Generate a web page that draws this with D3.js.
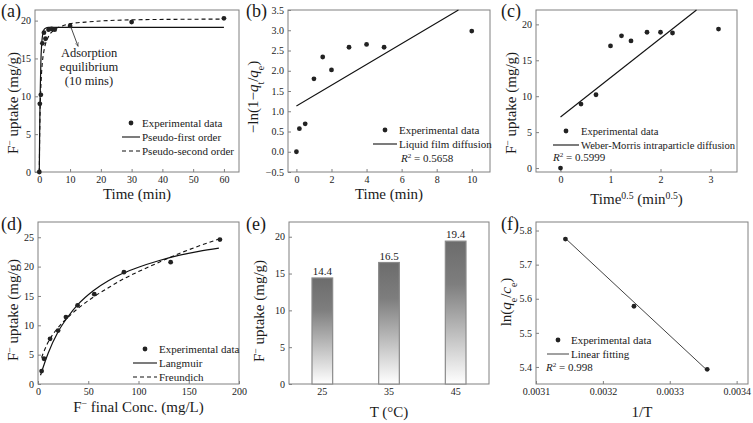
<!DOCTYPE html>
<html>
<head>
<meta charset="utf-8">
<script src="https://cdn.jsdelivr.net/npm/d3@7"></script>
<style>
  body { margin: 0; background: #fff; }
  svg text { font-family: "Liberation Serif", "Times New Roman", serif; fill: #1a1a1a; }
</style>
</head>
<body>
<svg id="chart" width="753" height="423"></svg>
<script>
// (a) kinetics
const timeA = [0, 0.17, 0.5, 1, 1.5, 2, 3, 4, 5, 10, 30, 60];
const uptakeA = [0, 9.0, 10.2, 17.0, 18.4, 17.6, 18.8, 18.9, 18.8, 19.3, 19.8, 20.3];
const pfoTime = [0, 0.1, 0.25, 0.5, 0.75, 1, 1.5, 2, 3, 60];
const pfoFit = [0, 4.7, 9.6, 14.4, 16.8, 17.9, 18.8, 19.0, 19.1, 19.1];
const psoTime = [0, 0.1, 0.25, 0.5, 0.75, 1, 1.5, 2, 3, 5, 7.5, 10, 15, 20, 30, 45, 60];
const psoFit = [0, 4.0, 7.8, 11.2, 13.2, 14.5, 16.0, 16.9, 17.9, 18.8, 19.3, 19.6, 19.8, 19.95, 20.1, 20.17, 20.2];

// (b) liquid film diffusion
const timeB = [0, 0.17, 0.5, 1, 1.5, 2, 3, 4, 5, 10];
const lnB = [0, 0.57, 0.69, 1.80, 2.34, 2.02, 2.58, 2.65, 2.58, 2.98];
const fitBx = [0, 9.24];
const fitBy = [1.13, 3.5];

// (c) Weber-Morris
const sqrtTimeC = [0, 0.41, 0.71, 1, 1.22, 1.41, 1.73, 2, 2.24, 3.16];
const uptakeC = [0, 8.9, 10.2, 17.0, 18.4, 17.7, 18.9, 18.9, 18.8, 19.35];
const fitCx = [0, 2.72];
const fitCy = [7.1, 22.0];

// (d) isotherms
const concD = [3.6, 6, 12, 20, 27.8, 39.4, 56, 85.5, 132, 181];
const uptakeD = [2.2, 4.3, 7.7, 9.1, 11.4, 13.4, 15.3, 19.05, 20.75, 24.6];
const langConc = [2.5, 10, 20, 30, 40, 55, 70, 85, 100, 120, 140, 160, 180];
const langFit = [1.5, 5.2, 8.9, 11.5, 13.6, 15.9, 17.6, 18.9, 19.9, 21.0, 21.9, 22.6, 23.15];
const freuConc = [3.5, 10, 20, 30, 40, 55, 70, 85, 100, 120, 140, 160, 180];
const freuFit = [4.5, 7.1, 9.6, 11.4, 12.9, 14.8, 16.4, 17.9, 19.15, 20.7, 22.2, 23.5, 24.7];

// (e) temperature
const tempsE = ["25", "35", "45"];
const uptakeE = [14.4, 16.5, 19.4];

// (f) thermodynamics
const invTF = [0.003144, 0.0032465, 0.003356];
const lnKF = [5.775, 5.578, 5.393];
const fitFx = [0.003144, 0.003356];
const fitFy = [5.777, 5.39];

const svg = d3.select("#chart");
const defs = svg.append("defs");
const FRAME = "#808080";

// text with rich runs: [text, {i: italic, s: 'sub'|'super'}]
function rich(sel, runs) {
  runs.forEach(r => {
    const t = sel.append("tspan").text(r[0]);
    const o = r[1] || {};
    if (o.i) t.style("font-style", "italic");
    if (o.s) t.attr("baseline-shift", o.s).style("font-size", "0.65em");
  });
  return sel;
}

function styleAxis(sel) {
  sel.select(".domain").remove();
  sel.selectAll(".tick line").attr("stroke", FRAME);
  sel.selectAll(".tick text").style("font-size", "10px")
    .style("font-family", '"Liberation Serif", "Times New Roman", serif').attr("fill", "#1a1a1a");
}

function panel(o) {
  const x = d3.scaleLinear().domain(o.xd).range([o.l, o.r]);
  const y = d3.scaleLinear().domain(o.yd).range([o.b, o.t]);
  const g = svg.append("g");

  g.append("rect")
    .attr("x", o.l).attr("y", o.t)
    .attr("width", o.r - o.l).attr("height", o.b - o.t)
    .attr("fill", "none").attr("stroke", FRAME).attr("stroke-width", 1);

  if (o.xt) {
    g.append("g")
      .attr("transform", "translate(0," + o.b + ")")
      .call(d3.axisBottom(x).tickValues(o.xt).tickSize(-3).tickPadding(4).tickFormat(o.xf || (d => d)))
      .call(styleAxis);
  }
  g.append("g")
    .attr("transform", "translate(" + o.l + ",0)")
    .call(d3.axisLeft(y).tickValues(o.yt).tickSize(-3).tickPadding(4).tickFormat(o.yf || (d => d)))
    .call(styleAxis);

  // panel label
  g.append("text").attr("x", o.lx).attr("y", o.ly)
    .style("font-size", "18px").text(o.label);

  // x title
  rich(g.append("text")
    .attr("x", (o.l + o.r) / 2).attr("y", o.xty)
    .attr("text-anchor", "middle").style("font-size", "15px"), o.xtitle);

  // y title
  rich(g.append("text")
    .attr("transform", "translate(" + o.ytx + "," + o.ytc + ") rotate(-90)")
    .attr("text-anchor", "middle").style("font-size", "15px"), o.ytitle);

  return { g, x, y };
}

function dots(p, xs, ys) {
  p.g.selectAll(null).data(xs).enter().append("circle")
    .attr("cx", d => p.x(d))
    .attr("cy", (d, i) => p.y(ys[i]))
    .attr("r", 2.4)
    .attr("fill", "#222");
}

function curve(p, xs, ys, dash, w) {
  const line = d3.line().x(d => p.x(d[0])).y(d => p.y(d[1])).curve(d3.curveMonotoneX);
  p.g.append("path")
    .datum(xs.map((d, i) => [d, ys[i]]))
    .attr("d", line)
    .attr("fill", "none").attr("stroke", "#111")
    .attr("stroke-width", w || 1.1)
    .attr("stroke-dasharray", dash || null);
}

function legend(g, x, y, items, fs) {
  items.forEach((it, i) => {
    const cy = y + i * 14;
    if (it.type === "dot") {
      g.append("circle").attr("cx", x + it.w / 2).attr("cy", cy).attr("r", 2.4).attr("fill", "#222");
    } else {
      g.append("line").attr("x1", x).attr("x2", x + it.w).attr("y1", cy).attr("y2", cy)
        .attr("stroke", "#111").attr("stroke-width", it.sw || 1.1)
        .attr("stroke-dasharray", it.type === "dash" ? "4,3" : null);
    }
    rich(g.append("text")
      .attr("x", x + it.w + 2)
      .attr("y", cy + 4).style("font-size", (fs || 11) + "px"), it.label);
  });
}

const Fm = [["F"], ["\u2212", { s: "super" }]];

// ---- (a)
const pa = panel({
  l: 35, r: 239, t: 10, b: 172, xd: [-1.4, 64.9], yd: [0, 21.4],
  xt: [0, 10, 20, 30, 40, 50, 60], yt: [0, 5, 10, 15, 20],
  label: "(a)", lx: 1, ly: 17,
  xtitle: [["Time (min)"]], xty: 199,
  ytitle: Fm.concat([[" uptake (mg/g)"]]), ytx: 18, ytc: 103
});
curve(pa, pfoTime, pfoFit, null, 1.2);
curve(pa, psoTime, psoFit, "4,3", 1.1);
dots(pa, timeA, uptakeA);
defs.append("marker")
  .attr("id", "arr").attr("viewBox", "0 0 10 10").attr("refX", 9).attr("refY", 5)
  .attr("markerWidth", 5).attr("markerHeight", 5).attr("orient", "auto")
  .append("path").attr("d", "M0,1 L9,5 L0,9").attr("fill", "none").attr("stroke", "#333");
pa.g.append("line")
  .attr("x1", pa.x(10.3)).attr("y1", pa.y(19.1))
  .attr("x2", pa.x(12.6)).attr("y2", pa.y(16.6))
  .attr("stroke", "#333").attr("stroke-width", 0.9).attr("marker-end", "url(#arr)");
["Adsorption", "equilibrium", "(10 mins)"].forEach((s, i) => {
  pa.g.append("text").attr("x", 89).attr("y", 57 + i * 14)
    .attr("text-anchor", "middle").style("font-size", "12.5px").text(s);
});
legend(pa.g, 122, 123, [
  { type: "dot", w: 18, label: [["Experimental data"]] },
  { type: "line", w: 18, label: [["Pseudo-first order"]] },
  { type: "dash", w: 18, label: [["Pseudo-second order"]] }
]);

// ---- (b)
const pb = panel({
  l: 288, r: 490, t: 10, b: 172, xd: [-0.48, 11.04], yd: [-0.5, 3.5],
  xt: [0, 2, 4, 6, 8, 10], yt: [-0.5, 0, 0.5, 1, 1.5, 2, 2.5, 3, 3.5],
  yf: d => d3.format(".1f")(d).replace("-", "\u2212"),
  label: "(b)", lx: 246, ly: 17,
  xtitle: [["Time (min)"]], xty: 199,
  ytitle: [["\u2212ln(1\u2212"], ["q", { i: 1 }], ["t", { s: "sub" }], ["/"], ["q", { i: 1 }], ["e", { s: "sub" }], [")"]],
  ytx: 258, ytc: 97
});
curve(pb, fitBx, fitBy, null, 1.1);
dots(pb, timeB, lnB);
legend(pb.g, 373, 130, [
  { type: "dot", w: 24, label: [["Experimental data"]] },
  { type: "line", w: 24, label: [["Liquid film diffusion"]] }
]);
rich(pb.g.append("text").attr("x", 401).attr("y", 162).style("font-size", "11px"),
  [["R", { i: 1 }], ["2", { s: "super" }], [" = 0.5658"]]);

// ---- (c)
const pc = panel({
  l: 536, r: 737, t: 10, b: 172, xd: [-0.49, 3.53], yd: [-0.55, 22],
  xt: [0, 1, 2, 3], yt: [0, 5, 10, 15, 20],
  label: "(c)", lx: 501, ly: 17,
  xtitle: [["Time"], ["0.5", { s: "super" }], [" (min"], ["0.5", { s: "super" }], [")"]], xty: 204,
  ytitle: Fm.concat([[" uptake (mg/g)"]]), ytx: 516, ytc: 103
});
curve(pc, fitCx, fitCy, null, 1.1);
dots(pc, sqrtTimeC, uptakeC);
legend(pc.g, 553, 131, [
  { type: "dot", w: 26, label: [["Experimental data"]] },
  { type: "line", w: 26, label: [["Weber-Morris intraparticle diffusion"]] }
], 10.6);
rich(pc.g.append("text").attr("x", 553).attr("y", 161).style("font-size", "11px"),
  [["R", { i: 1 }], ["2", { s: "super" }], [" = 0.5999"]]);

// ---- (d)
const pd = panel({
  l: 38, r: 239, t: 222, b: 384, xd: [0, 200], yd: [0, 27.6],
  xt: [0, 50, 100, 150, 200], yt: [0, 5, 10, 15, 20, 25],
  label: "(d)", lx: 1, ly: 230,
  xtitle: Fm.concat([[" final Conc. (mg/L)"]]), xty: 412,
  ytitle: Fm.concat([[" uptake (mg/g)"]]), ytx: 18, ytc: 310
});
curve(pd, langConc, langFit, null, 1.2);
curve(pd, freuConc, freuFit, "4,3", 1.1);
dots(pd, concD, uptakeD);
legend(pd.g, 133, 349, [
  { type: "dot", w: 24, label: [["Experimental data"]] },
  { type: "line", w: 24, label: [["Langmuir"]] },
  { type: "dash", w: 24, label: [["Freundich"]] }
]);

// ---- (e)
const pe = panel({
  l: 289, r: 489, t: 222, b: 384, xd: [0, 1], yd: [0, 22],
  xt: null, yt: [0, 5, 10, 15, 20],
  label: "(e)", lx: 246, ly: 230,
  xtitle: [["T (\u00b0C)"]], xty: 417,
  ytitle: Fm.concat([[" uptake (mg/g)"]]), ytx: 264, ytc: 311
});
const band = d3.scaleBand().domain(tempsE).range([289, 489]).padding(0);
pe.g.append("g")
  .attr("transform", "translate(0,384)")
  .call(d3.axisBottom(band).tickSize(-3).tickPadding(4))
  .call(styleAxis);
const grad = defs.append("linearGradient")
  .attr("id", "barGrad").attr("x1", 0).attr("y1", 0).attr("x2", 0).attr("y2", 1);
grad.append("stop").attr("offset", "0%").attr("stop-color", "#6c6c6c");
grad.append("stop").attr("offset", "30%").attr("stop-color", "#7e7e7e");
grad.append("stop").attr("offset", "100%").attr("stop-color", "#ffffff");
const barW = band.bandwidth() * 0.31;
pe.g.selectAll(".bar").data(tempsE).enter().append("rect")
  .attr("class", "bar")
  .attr("x", d => band(d) + band.bandwidth() / 2 - barW / 2)
  .attr("width", barW)
  .attr("y", (d, i) => pe.y(uptakeE[i]))
  .attr("height", (d, i) => 384 - pe.y(uptakeE[i]))
  .attr("fill", "url(#barGrad)")
  .attr("stroke", "#8a8a8a").attr("stroke-width", 1.2);
pe.g.selectAll(".blab").data(tempsE).enter().append("text")
  .attr("x", d => band(d) + band.bandwidth() / 2)
  .attr("y", (d, i) => pe.y(uptakeE[i]) - 3)
  .attr("text-anchor", "middle").style("font-size", "11px")
  .text((d, i) => uptakeE[i].toFixed(1));

// ---- (f)
const pf = panel({
  l: 536, r: 748, t: 222, b: 384, xd: [0.0031, 0.003417], yd: [5.35, 5.825],
  xt: [0.0031, 0.0032, 0.0033, 0.0034], yt: [5.4, 5.5, 5.6, 5.7, 5.8],
  xf: d3.format(".4f"), yf: d3.format(".1f"),
  label: "(f)", lx: 501, ly: 230,
  xtitle: [["1/T"]], xty: 417,
  ytitle: [["ln("], ["q", { i: 1 }], ["e", { s: "sub" }], ["/"], ["c", { i: 1 }], ["e", { s: "sub" }], [")"]],
  ytx: 511, ytc: 302
});
curve(pf, fitFx, fitFy, null, 0.8);
dots(pf, invTF, lnKF);
legend(pf.g, 547, 340, [
  { type: "dot", w: 22, label: [["Experimental data"]] },
  { type: "line", w: 22, sw: 0.8, label: [["Linear fitting"]] }
]);
rich(pf.g.append("text").attr("x", 546).attr("y", 371).style("font-size", "11px"),
  [["R", { i: 1 }], ["2", { s: "super" }], [" = 0.998"]]);
</script>
</body>
</html>
